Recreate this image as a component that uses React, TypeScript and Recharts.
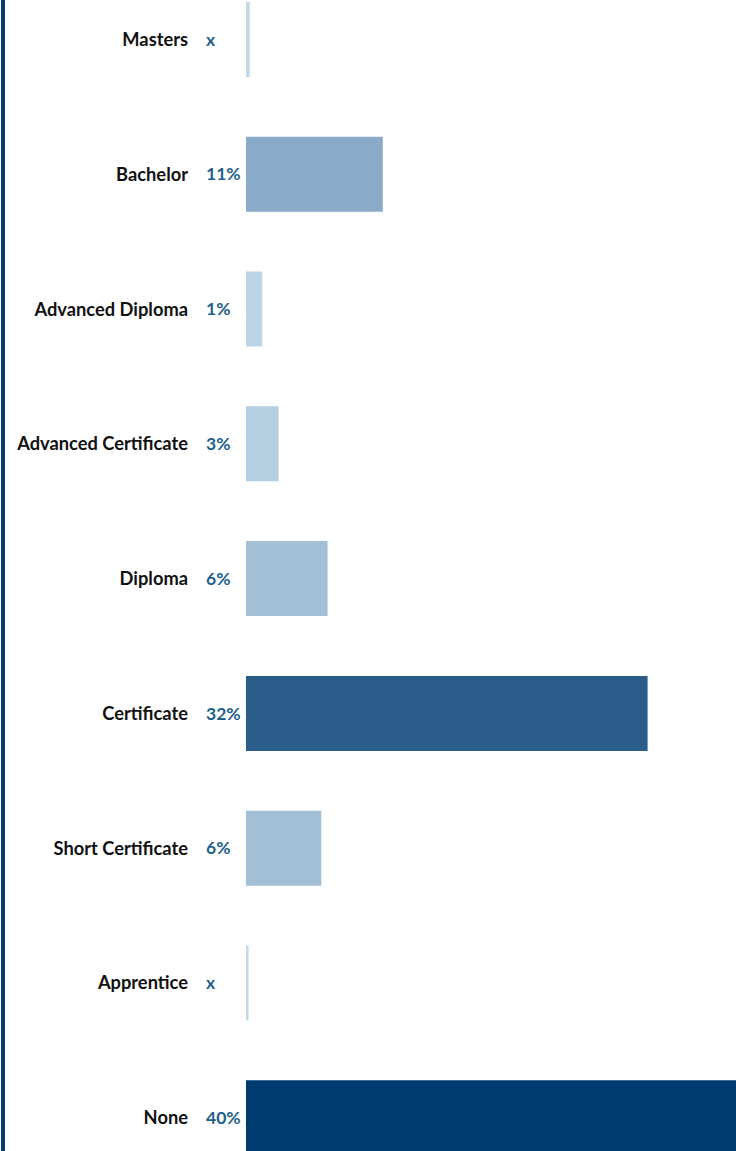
import { BarChart, Bar, XAxis, YAxis, Cell } from 'recharts'

const categories = [
  'Masters', 'Bachelor', 'Advanced Diploma', 'Advanced Certificate',
  'Diploma', 'Certificate', 'Short Certificate', 'Apprentice', 'None',
]
const values = [0.3, 10.9, 1.3, 2.6, 6.5, 32, 6, 0.2, 40]
const valueLabels = ['x', '11%', '1%', '3%', '6%', '32%', '6%', 'x', '40%']
const barColors = [
  '#c0d8e8', '#8aabc8', '#bcd4e6', '#b5cfe2',
  '#a3bfd6', '#2a5d8a', '#a3bfd6', '#c0d8e8', '#003b70',
]

const data = categories.map((name, i) => ({ name, value: values[i] }))

const FONT = 'Lato, "Open Sans", sans-serif'

function CategoryTick(props: any) {
  const { y, index, payload } = props
  return (
    <g>
      <text x={188} y={y} dy="0.36em" textAnchor="end" fontFamily={FONT}
        fontWeight={700} fontSize={18.3} fill="#111">
        {payload.value}
      </text>
      <text x={206} y={y} dy="0.36em" textAnchor="start" fontFamily={FONT}
        fontWeight={700} fontSize={17.5} fill="#1f5f8b">
        {valueLabels[index]}
      </text>
    </g>
  )
}

export default function App() {
  return (
    <div style={{ position: 'absolute', left: 0, top: 0, width: 736, height: 1151, overflow: 'hidden', background: '#fff' }}>
      <div style={{ position: 'absolute', left: 1, top: 0, width: 4, height: 1151, background: '#003d73' }} />
      <div style={{ position: 'absolute', left: 0, top: -28 }}>
        <BarChart
          layout="vertical"
          width={748}
          height={1213}
          data={data}
          margin={{ top: 0, right: 0, bottom: 0, left: 0 }}
        >
          <XAxis type="number" domain={[0, 40]} hide />
          <YAxis
            type="category"
            dataKey="name"
            width={246}
            axisLine={false}
            tickLine={false}
            interval={0}
            tick={<CategoryTick />}
          />
          <Bar dataKey="value" barSize={75} isAnimationActive={false}>
            {data.map((d, i) => (
              <Cell key={d.name} fill={barColors[i]} />
            ))}
          </Bar>
        </BarChart>
      </div>
    </div>
  )
}
